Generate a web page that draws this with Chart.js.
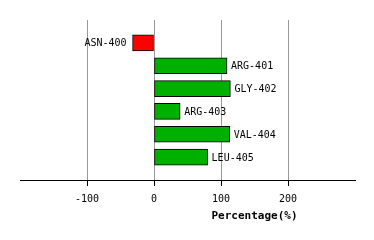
<!DOCTYPE html>
<html>
<head>
<meta charset="utf-8">
<script src="https://cdn.jsdelivr.net/npm/chart.js@4"></script>
<style>
  html, body { margin: 0; padding: 0; background: #fff; }
  #wrap { width: 374px; height: 240px; }
</style>
</head>
<body>
<div id="wrap"><canvas id="chart"></canvas></div>
<script>
var residues = ["ASN-400", "ARG-401", "GLY-402", "ARG-403", "VAL-404", "LEU-405"];
var percentages = [-32, 109, 114, 39, 113, 80];
var xTicks = [-100, 0, 100, 200];

// blank slot above and below so the bars sit on the inner grid positions
var labels = [""].concat(residues, [""]);
var values = [null].concat(percentages, [null]);

var barLabels = {
  id: 'barLabels',
  afterDatasetsDraw: function(chart) {
    var c = chart.ctx;
    var meta = chart.getDatasetMeta(0);
    c.save();
    c.font = '10px "DejaVu Sans Mono"';
    c.fillStyle = '#000';
    c.textBaseline = 'middle';
    meta.data.forEach(function(bar, i) {
      var v = values[i];
      if (v === null) return;
      if (v < 0) {
        c.textAlign = 'right';
        c.fillText(labels[i], bar.x - 6, bar.y + 1);
      } else {
        c.textAlign = 'left';
        c.fillText(labels[i], bar.x + 4, bar.y + 1);
      }
    });
    c.restore();
  }
};

var axisTitle = {
  id: 'axisTitle',
  afterDraw: function(chart) {
    var c = chart.ctx;
    c.save();
    c.font = 'bold 11px "DejaVu Sans Mono"';
    c.fillStyle = '#000';
    c.textAlign = 'center';
    c.textBaseline = 'middle';
    c.fillText('Percentage(%)', 254.5, 216);
    c.restore();
  }
};

new Chart(document.getElementById('chart'), {
  type: 'bar',
  data: {
    labels: labels,
    datasets: [{
      data: values,
      backgroundColor: values.map(function(v) { return v < 0 ? '#ff0000' : '#00b000'; }),
      borderColor: '#000',
      borderWidth: 1,
      borderSkipped: false,
      barThickness: 16
    }]
  },
  options: {
    indexAxis: 'y',
    responsive: true,
    maintainAspectRatio: false,
    animation: false,
    layout: { padding: { left: 20, right: 19, top: 20, bottom: 0 } },
    plugins: { legend: { display: false }, tooltip: { enabled: false } },
    scales: {
      y: { display: false, offset: false },
      x: {
        min: -200,
        max: 300,
        afterFit: function(scale) { scale.height = 60; },
        afterBuildTicks: function(scale) {
          scale.ticks = [-200, -100, 0, 100, 200, 300].map(function(v) { return { value: v }; });
        },
        border: { color: '#000', width: 1 },
        grid: {
          color: function(ctx) {
            return xTicks.indexOf(ctx.tick.value) >= 0 ? '#999' : 'rgba(0,0,0,0)';
          },
          tickColor: function(ctx) {
            return xTicks.indexOf(ctx.tick.value) >= 0 ? '#000' : 'rgba(0,0,0,0)';
          },
          tickLength: 6
        },
        ticks: {
          padding: 7,
          color: '#000',
          font: { family: 'DejaVu Sans Mono', size: 10 },
          maxRotation: 0,
          autoSkip: false,
          callback: function(v) { return xTicks.indexOf(v) >= 0 ? String(v) : ''; }
        }
      }
    }
  },
  plugins: [barLabels, axisTitle]
});
</script>
</body>
</html>
